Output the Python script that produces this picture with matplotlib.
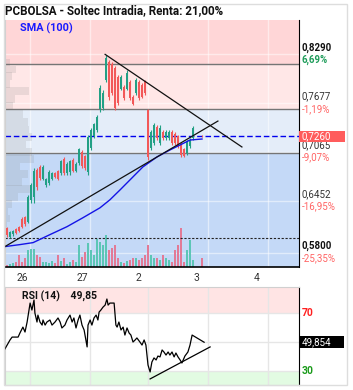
import matplotlib
matplotlib.use('Agg')
import matplotlib.pyplot as plt
from matplotlib import transforms
from matplotlib.patches import Rectangle

plt.rcParams['font.family'] = ['Roboto', 'DejaVu Sans']

W, H = 353, 390

# velas intradia (indice de barra)
bar_t = list(range(63)) + [65]
opens = [.611, .600, .603, .610, .612, .623, .625, .619, .646, .650,
         .684, .688, .673, .665, .667, .673, .680, .683, .680, .698,
         .680, .681, .697, .683, .693, .707, .701, .682, .712, .726,
         .734, .760, .762, .797, .819, .817, .812, .800, .786, .788,
         .786, .794, .776, .780, .794, .791, .795, .759, .711, .718,
         .738, .718, .732, .724, .724, .732, .729, .726, .717, .710,
         .705, .714, .724, .727]
highs = [.613, .607, .609, .611, .614, .625, .626, .653, .668, .686,
         .686, .690, .690, .674, .684, .681, .681, .684, .697, .700,
         .694, .697, .699, .694, .712, .709, .703, .728, .737, .743,
         .753, .790, .784, .828, .822, .819, .815, .803, .803, .790,
         .809, .797, .778, .799, .797, .793, .797, .761, .734, .743,
         .740, .740, .734, .734, .734, .734, .732, .728, .719, .712,
         .722, .724, .739, .728]
lows = [.600, .599, .601, .604, .606, .611, .614, .617, .643, .643,
        .659, .671, .671, .663, .665, .671, .674, .671, .678, .678,
        .678, .678, .681, .681, .690, .687, .684, .678, .709, .724,
        .732, .757, .759, .794, .772, .778, .759, .765, .784, .772,
        .784, .772, .765, .778, .772, .774, .778, .697, .709, .715,
        .722, .715, .722, .722, .722, .715, .715, .712, .700, .700,
        .703, .712, .722, .725]
closes = [.602, .606, .607, .605, .607, .613, .616, .650, .665, .683,
          .662, .674, .688, .672, .682, .680, .675, .673, .695, .680,
          .692, .695, .683, .692, .710, .689, .686, .725, .734, .741,
          .751, .787, .781, .825, .775, .781, .762, .768, .800, .774,
          .806, .774, .767, .797, .774, .776, .780, .700, .731, .740,
          .724, .737, .724, .732, .731, .718, .718, .714, .703, .702,
          .719, .722, .736, .726]
volumes = [20, 30, 40, 50, 120, 50, 90, 170, 180, 180,
           120, 100, 50, 50, 40, 60, 40, 120, 60, 90,
           30, 50, 70, 50, 220, 100, 150, 240, 170, 120,
           280, 250, 220, 320, 170, 190, 220, 90, 50, 40,
           60, 70, 90, 90, 70, 90, 120, 220, 120, 90,
           90, 70, 120, 90, 70, 50, 170, 220, 390, 50,
           170, 270, 70, 90]

# media movil 100
sma_t = [-0.7, 4.3, 8.7, 14.3, 20.0, 25.3, 31.0, 34.3, 37.7, 42.0, 45.3, 50.0, 54.3, 57.7, 61.0, 65.0]
sma_v = [0.5878, 0.5903, 0.5928, 0.6028, 0.6128, 0.6240, 0.6365, 0.6465, 0.6590,
         0.6753, 0.6878, 0.7003, 0.7090, 0.7153, 0.7215, 0.7228]

# lineas de tendencia dibujadas
up_t, up_v = [-0.7, 70.3], [0.5878, 0.7453]
dn_t, dn_v = [32.7, 78.3], [0.829, 0.7128]

# perfil de volumen
prof_price = [0.819, 0.810, 0.802, 0.792, 0.783, 0.773, 0.764, 0.754, 0.744, 0.735, 0.725, 0.716,
              0.7065, 0.698, 0.688, 0.679, 0.669, 0.660, 0.650, 0.641, 0.632, 0.623, 0.614, 0.605]
prof_vol = [5, 11, 7, 5, 24, 10, 8, 18, 23, 24, 27, 21, 27, 29, 15, 23, 17, 25, 13, 7, 3, 5, 2, 1]

# niveles
zone_lines = [0.8169, 0.7605, 0.7052]
last_price = 0.7260
low_line = 0.5990
levels = [0.8290, 0.7677, 0.7065, 0.6452, 0.5800]
level_txt = ['0,8290', '0,7677', '0,7065', '0,6452', '0,5800']
pct_txt = ['6,69%', '-1,19%', '-9,07%', '-16,95%', '-25,35%']
y_lo, y_hi = 0.5622, 0.8721

# eje x (dias)
day_labels = ['26', '27', '2', '3', '4']
day_label_t = [5.0, 25.0, 43.7, 63.3, 83.3]
day_grid_t = [7.7, 27.7, 47.0, 67.0, 87.0]
x_lo, x_hi = -0.67, 97.33

# RSI (14)
rsi_t = [-0.7, 1.0, 1.7, 3.7, 4.3, 5.3, 6.0, 6.7, 7.7, 8.3, 9.0, 9.3, 10.0, 10.3, 11.0, 11.7,
         12.0, 12.7, 13.3, 14.3, 15.0, 16.0, 17.0, 17.7, 18.3, 19.3, 20.0, 21.0, 21.7, 22.3,
         23.0, 23.7, 24.3, 25.0, 25.7, 26.7, 27.0, 27.7, 28.3, 29.0, 29.7, 30.3, 30.7, 31.3,
         32.0, 32.7, 33.3, 33.7, 34.3, 35.7, 36.3, 36.7, 37.3, 38.0, 38.7, 39.3, 40.0, 40.7,
         41.3, 42.0, 42.7, 43.3, 44.3, 45.0, 45.7, 46.3, 47.0, 47.7, 48.3, 49.0, 49.7, 50.3,
         51.0, 51.7, 52.3, 53.0, 53.7, 54.3, 55.0, 55.7, 56.3, 57.0, 57.7, 58.3, 59.3, 60.3,
         61.0, 61.7, 65.7]
rsi_v = [45.2, 51.4, 53.4, 53.4, 56.2, 60.3, 56.9, 63.8, 76.9, 72.1, 79.0, 70.0, 63.8, 68.6,
         63.8, 61.7, 65.2, 61.7, 63.8, 65.2, 61.7, 63.8, 66.6, 63.8, 59.7, 61.7, 65.2, 68.6,
         63.8, 66.6, 59.7, 65.2, 68.6, 61.7, 58.3, 46.6, 61.7, 65.2, 61.7, 66.6, 68.6, 65.2,
         70.7, 72.1, 74.1, 75.5, 79.7, 75.5, 76.9, 76.9, 61.7, 60.3, 63.8, 58.3, 60.3, 54.8,
         59.7, 56.2, 54.8, 50.0, 51.4, 52.8, 50.0, 47.9, 51.4, 47.9, 34.1, 29.3, 36.2, 39.0,
         37.6, 40.3, 39.7, 44.5, 43.1, 41.0, 43.1, 41.0, 43.1, 39.7, 42.4, 39.7, 37.6, 35.5,
         40.3, 43.1, 47.9, 54.8, 49.85]
rsi_last = 49.854
rsi_tr_t, rsi_tr_v = [47.7, 67.7], [24.5, 46.6]

GREEN, RED = '#22a085', '#f25858'
VGREEN, VRED = '#5cc6b6', '#e27a96'


def px_box(x0, y0, x1, y1):
    return [x0 / W, 1 - y1 / H, (x1 - x0) / W, (y1 - y0) / H]


fig = plt.figure(figsize=(W / 100, H / 100), dpi=100)
ax = fig.add_axes(px_box(5, 20, 299, 267))
rsi = fig.add_axes(px_box(5, 287, 299, 385))

ax.set_xlim(x_lo, x_hi)
ax.set_ylim(y_lo, y_hi)

# fondos por zonas
ax.axhspan(zone_lines[0], y_hi, color='#ffd6d7', zorder=0, lw=0)
ax.axhspan(zone_lines[1], zone_lines[0], color='#ffe7e7', zorder=0, lw=0)
ax.axhspan(zone_lines[2], zone_lines[1], color='#e4edf9', zorder=0, lw=0)
ax.axhspan(y_lo, zone_lines[2], color='#c4d9f7', zorder=0, lw=0)
for lv in levels:
    ax.axhline(lv, color='white', alpha=0.5, lw=1, zorder=0.6)
for g in day_grid_t:
    ax.axvline(g, color='white', alpha=0.5, lw=1, zorder=0.6)
for z in zone_lines:
    ax.axhline(z, color='#757575', lw=1, zorder=1.8)

# volumen
vol = ax.inset_axes([0, 0, 1, 1])
vol.set_xlim(x_lo, x_hi)
vol.set_ylim(0, 2470)
vol.axis('off')
vol.patch.set_alpha(0)
vol.set_zorder(1.5)
vcol = [VGREEN if c >= o else VRED for o, c in zip(opens, closes)]
vol.bar(bar_t, volumes, width=0.35, color=vcol, lw=0)

# perfil de volumen
prof = ax.inset_axes([0, 0, 1, 1])
prof.set_xlim(0, 294)
prof.set_ylim(y_lo, y_hi)
prof.axis('off')
prof.patch.set_alpha(0)
prof.set_zorder(1.6)
prof.barh(prof_price, prof_vol, height=0.0094, left=0, color='#8c8c8c', alpha=0.18, lw=0)

ax.axhline(last_price, color='#0000ee', lw=1, dashes=(4, 2), zorder=2)
ax.axhline(low_line, color='#222222', lw=0.8, dashes=(2, 1.5), zorder=2)

# velas
ccol = [GREEN if c >= o else RED for o, c in zip(opens, closes)]
ax.vlines(bar_t, lows, highs, colors=ccol, lw=0.8, zorder=3)
bottoms = [min(o, c) for o, c in zip(opens, closes)]
heights = [abs(c - o) for o, c in zip(opens, closes)]
ax.bar(bar_t, heights, bottom=bottoms, width=0.6, color=ccol, lw=0, zorder=3)

ax.plot(sma_t, sma_v, color='#1414e6', lw=1.0, zorder=4)
ax.plot(up_t, up_v, color='#111111', lw=0.9, zorder=5)
ax.plot(dn_t, dn_v, color='#111111', lw=0.9, zorder=5)

ax.text(0.051, 0.968, 'SMA (100)', transform=ax.transAxes, color='#1a1aff',
        fontsize=7.8, fontweight='bold', va='center', ha='left')

# etiquetas del eje de precios
tr = transforms.blended_transform_factory(ax.transAxes, ax.transData)
for i, (lv, lt, pt) in enumerate(zip(levels, level_txt, pct_txt)):
    strong = i in (0, len(levels) - 1)
    ax.annotate(lt, xy=(1, lv), xycoords=tr, xytext=(2, 1.2), textcoords='offset points',
                va='bottom', ha='left', fontsize=7, color='#111111' if strong else '#333333',
                fontweight='bold' if strong else 'normal', annotation_clip=False)
    ax.annotate(pt, xy=(1, lv), xycoords=tr, xytext=(2, -0.5), textcoords='offset points',
                va='top', ha='left', fontsize=7, color='#1e9c5a' if i == 0 else '#ff6464',
                fontweight='bold' if i == 0 else 'normal', annotation_clip=False)

ax.add_patch(Rectangle((1.0, last_price - 0.0069), 46 / 294, 0.0138, transform=tr,
                       color='#ff5c5c', lw=0, clip_on=False, zorder=6))
ax.annotate('0,7260', xy=(1, last_price), xycoords=tr, xytext=(2, 0), textcoords='offset points',
            va='center', ha='left', fontsize=7, color='white', annotation_clip=False, zorder=7)

ax.set_xticks(day_label_t)
ax.set_xticklabels(day_labels)
ax.set_yticks([])
ax.tick_params(axis='x', length=0, pad=4, labelsize=7.5, labelcolor='#333333')
ax.spines['top'].set_visible(False)
ax.spines['left'].set_color('#cfcfcf')
ax.spines['right'].set_color('black')
ax.spines['bottom'].set_color('black')
ax.spines['bottom'].set_linewidth(1.2)

# panel RSI
rsi.set_xlim(x_lo, x_hi)
rsi.set_ylim(20.3, 88)
rsi.axhspan(70, 88, color='#ffe4e4', lw=0, zorder=0)
rsi.axhspan(20.3, 30, color='#e2fbe2', lw=0, zorder=0)
for lv in (70, 50, 30):
    rsi.axhline(lv, color='#e6e6e6', lw=1, zorder=0.5)
for g in day_grid_t:
    rsi.axvline(g, color='#e6e6e6', lw=1, zorder=0.5)
rsi.plot(rsi_t, rsi_v, color='black', lw=0.9, zorder=3)
rsi.plot(rsi_tr_t, rsi_tr_v, color='black', lw=0.9, zorder=3)
rsi.set_xticks([])
rsi.set_yticks([])
for s in ('top', 'left', 'bottom'):
    rsi.spines[s].set_color('#d0d0d0')
rsi.spines['right'].set_color('black')
rsi.text(0.058, 0.905, 'RSI (14)    49,85', transform=rsi.transAxes, fontsize=7.5,
         fontweight='bold', va='center', ha='left', color='#111111')

rtr = transforms.blended_transform_factory(rsi.transAxes, rsi.transData)
rsi.annotate('70', xy=(1, 70), xycoords=rtr, xytext=(2, 0), textcoords='offset points',
             va='center', ha='left', fontsize=7.5, fontweight='bold', color='#ff2020',
             annotation_clip=False)
rsi.annotate('30', xy=(1, 30), xycoords=rtr, xytext=(2, 0), textcoords='offset points',
             va='center', ha='left', fontsize=7.5, fontweight='bold', color='#1a9a1a',
             annotation_clip=False)
rsi.add_patch(Rectangle((1.0, rsi_last - 4.1), 45 / 294, 8.2, transform=rtr,
                        color='black', lw=0, clip_on=False, zorder=6))
rsi.annotate('49,854', xy=(1, rsi_last), xycoords=rtr, xytext=(2, 0), textcoords='offset points',
             va='center', ha='left', fontsize=7, color='white', annotation_clip=False, zorder=7)

fig.text(5 / W, 1 - 11 / H, 'PCBOLSA - Soltec Intradia, Renta: 21,00%', fontsize=8.4,
         fontweight='bold', va='center', ha='left', color='#111111')
fig.patches.append(Rectangle((4 / W, 5 / H), 343 / W, 381 / H, transform=fig.transFigure,
                             fill=False, ec='#dddddd', lw=1))

fig.savefig('out.png', dpi=100)
